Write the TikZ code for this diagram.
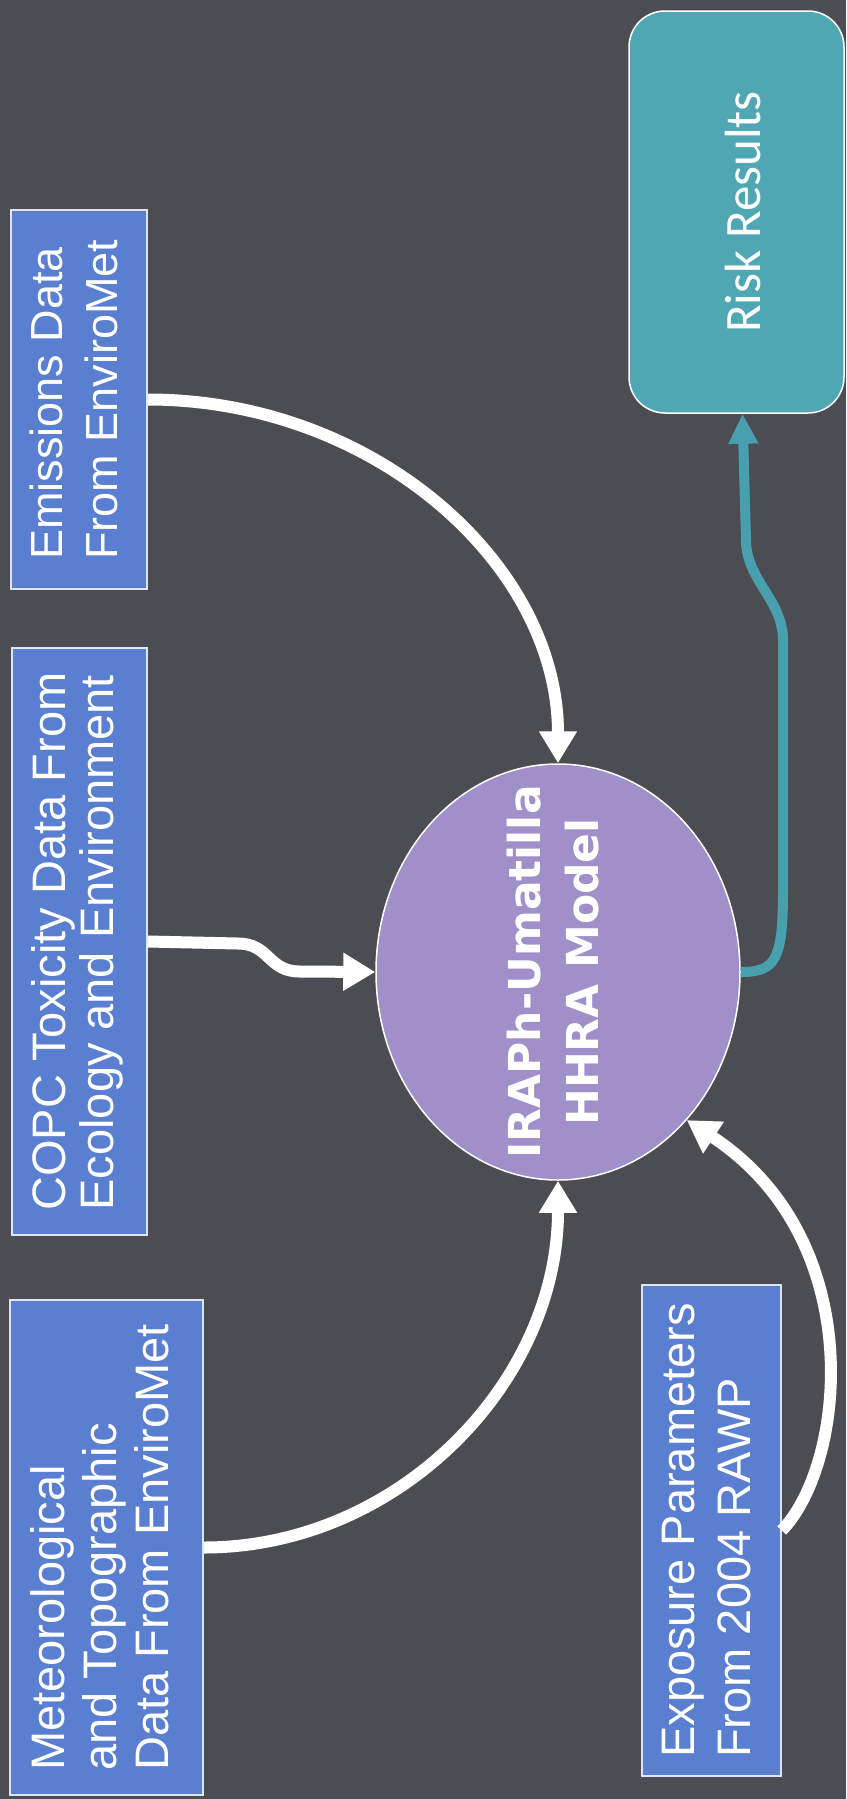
\documentclass[tikz,border=0pt]{standalone}
\usepackage{graphicx}
\usepackage{fontspec}
\setmainfont{Liberation Sans}
\newfontfamily\modelfont{DejaVu Sans}
\newfontfamily\riskfont{Carlito}
\usepackage{tikz}
\usetikzlibrary{shapes.geometric}
\usetikzlibrary{arrows.meta}

\definecolor{slidebg}{RGB}{75,77,82}
\definecolor{boxblue}{RGB}{90,126,208}
\definecolor{modelpurple}{RGB}{161,143,201}
\definecolor{riskteal}{RGB}{78,167,179}
\definecolor{linkteal}{RGB}{72,160,174}

% text that reads from bottom to top
\newcommand\vtext[2][l]{\rotatebox{90}{\begin{tabular}{@{}#1@{}}#2\end{tabular}}}

\tikzset{
  inbox/.style={draw=white!80!boxblue, line width=1.5pt, fill=boxblue,
    text=white, inner sep=0pt},
  modelnode/.style={ellipse, draw=white, line width=1.5pt, fill=modelpurple,
    text=white, inner xsep=0pt, inner ysep=-60pt},
  riskbox/.style={draw=white, line width=1.5pt, fill=riskteal, text=white,
    rounded corners=36pt, inner sep=0pt},
  feed/.style={white, line width=12pt, -{Triangle[width=36pt,length=32pt]}},
  outlink/.style={linkteal, line width=10pt, -{Triangle[width=28pt,length=30pt]}}
}

\begin{document}
\begin{tikzpicture}[x=1pt,y=-1pt]
    \fill[slidebg] (0,0) rectangle (846,1799);
    \useasboundingbox (0,0) rectangle (846,1799);

    % inputs
    \node[inbox, minimum width=136pt, minimum height=379pt,
      font=\fontsize{45}{55}\selectfont] (emis) at (79,399.5)
      {\vtext{Emissions Data\\From EnviroMet}};
    \node[inbox, minimum width=135pt, minimum height=587pt,
      font=\fontsize{47}{48}\selectfont] (copc) at (79.5,941.5)
      {\vtext{COPC Toxicity Data From\\Ecology and Environment}};
    \node[inbox, minimum width=193pt, minimum height=495pt,
      font=\fontsize{47}{52}\selectfont] (meteo) at (106.5,1547.5)
      {\vtext{Meteorological\\and Topographic\\Data From EnviroMet}};
    \node[inbox, minimum width=139pt, minimum height=491pt,
      font=\fontsize{47}{56}\selectfont] (expo) at (711.5,1530.5)
      {\vtext{Exposure Parameters\\From 2004 RAWP}};

    % model and output
    \node[modelnode, minimum width=364pt, minimum height=416pt,
      font=\modelfont\bfseries\fontsize{44}{58}\selectfont] (model) at (558,972)
      {\vtext[c]{IRAPh-Umatilla\\HHRA Model}};
    \node[riskbox, minimum width=215pt, minimum height=402pt,
      font=\riskfont\fontsize{51}{60}\selectfont] (risk) at (736.5,212)
      {\rotatebox{90}{\raisebox{-6pt}[\height][0pt]{Risk Results}}};

    % links
    \draw[feed] (emis.east) .. controls +(225,0) and +(0,-200) .. (model.north);
    \draw[feed] (copc.east) -- ++(90,2)
      .. controls +(32,0) and +(-32,0) .. ++(62,28) -- (model.west);
    \draw[feed] (meteo.east) .. controls +(194,0) and +(0,202) .. (model.south);
    \draw[feed] (expo.east) .. controls +(64,-66) and +(183,120) .. (model.-49);
    \draw[outlink] (model.east) .. controls +(35,0) and +(0,70) .. (783,890)
      -- (783,640) .. controls +(0,-40) and +(0,40) .. (746,540)
      -- ([xshift=6pt]risk.south);
\end{tikzpicture}
\end{document}
